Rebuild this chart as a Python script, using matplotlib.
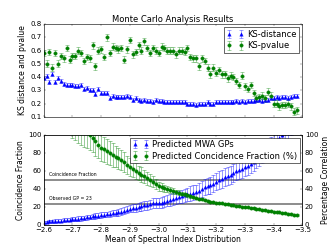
import numpy as np
import matplotlib
matplotlib.use('Agg')
import matplotlib.pyplot as plt

plt.style.use('classic')

# spectral index means (x axis)
spec_index = np.round(np.arange(-2.60, -3.485, -0.01), 2)

# top panel: KS test results
ks_dist = [0.39, 0.41, 0.36, 0.42, 0.36, 0.39, 0.37, 0.35, 0.34, 0.34,
           0.34, 0.33, 0.33, 0.34, 0.31, 0.32, 0.30, 0.30, 0.27, 0.31,
           0.28, 0.28, 0.28, 0.24, 0.26, 0.25, 0.25, 0.25, 0.25, 0.26,
           0.25, 0.23, 0.24, 0.23, 0.22, 0.23, 0.22, 0.22, 0.21, 0.23,
           0.22, 0.22, 0.21, 0.21, 0.21, 0.21, 0.21, 0.21, 0.21, 0.21,
           0.20, 0.20, 0.20, 0.19, 0.20, 0.20, 0.20, 0.21, 0.20, 0.20,
           0.21, 0.21, 0.21, 0.21, 0.21, 0.21, 0.21, 0.22, 0.21, 0.22,
           0.21, 0.22, 0.22, 0.22, 0.23, 0.23, 0.22, 0.23, 0.23, 0.24,
           0.24, 0.25, 0.24, 0.25, 0.25, 0.24, 0.25, 0.26, 0.26]
ks_dist_err = [0.015] * len(ks_dist)
ks_pval = [0.58, 0.50, 0.59, 0.47, 0.58, 0.50, 0.56, 0.54, 0.62, 0.53,
           0.56, 0.56, 0.60, 0.58, 0.52, 0.55, 0.54, 0.64, 0.48, 0.60,
           0.61, 0.55, 0.70, 0.58, 0.63, 0.62, 0.61, 0.62, 0.53, 0.61,
           0.68, 0.57, 0.59, 0.64, 0.60, 0.67, 0.62, 0.58, 0.62, 0.60,
           0.58, 0.63, 0.62, 0.60, 0.60, 0.60, 0.57, 0.60, 0.60, 0.59,
           0.62, 0.55, 0.54, 0.54, 0.48, 0.54, 0.52, 0.47, 0.42, 0.47,
           0.43, 0.45, 0.42, 0.42, 0.39, 0.41, 0.40, 0.37, 0.34, 0.41,
           0.33, 0.31, 0.34, 0.28, 0.24, 0.25, 0.26, 0.24, 0.29, 0.26,
           0.20, 0.20, 0.18, 0.19, 0.19, 0.20, 0.18, 0.14, 0.15]
ks_pval_err = [0.025] * len(ks_pval)

# bottom panel: predicted GPs and coincidence fraction
pred_gps = [3, 3.5, 4, 4, 4.5, 5, 5, 5.5, 6, 6,
            6.5, 7, 7, 7.5, 8, 8.5, 9, 9.5, 10, 10.5,
            11, 11.5, 12, 12.5, 13, 13.5, 14, 15, 16, 17,
            18, 19, 19, 20, 21, 22, 22, 23, 24, 24,
            24, 25, 26, 27, 28, 29, 30, 31, 32, 33,
            34, 35, 36, 37, 38, 40, 42, 43, 44, 46,
            48, 50, 51, 53, 55, 56, 58, 60, 61, 62,
            64, 66, 68, 70, 73, 76, 79, 82, 85, 88,
            91, 94, 97, 100, 103, 106, 110, 114, 118]
pred_gps_err = [1.5, 1.5, 1.5, 1.5, 2, 2, 2, 2, 2, 2,
                2, 2, 2.5, 2.5, 2.5, 2.5, 2.5, 3, 3, 3,
                3, 3, 3, 3.5, 3.5, 3.5, 3.5, 4, 4, 4,
                4, 4.5, 4.5, 4.5, 5, 5, 5, 5, 5.5, 5.5,
                5.5, 6, 6, 6, 6.5, 6.5, 7, 7, 7, 7.5,
                7.5, 8, 8, 8, 8.5, 8.5, 9, 9, 9, 9.5,
                9.5, 10, 10, 10, 10, 10, 10, 10, 10, 10,
                10, 10, 10, 10, 10, 10, 10, 10, 10, 10,
                10, 10, 10, 10, 10, 10, 10, 10, 10]
coinc_frac = [180, 172, 165, 158, 150, 144, 138, 132, 126, 121,
              117, 113, 110, 107, 105, 103, 100, 97, 93, 89,
              86, 84, 82, 80, 78, 76, 74, 72, 70, 67,
              64, 62, 60, 58, 56, 54, 52, 50, 48, 46,
              43, 42, 41, 40, 39, 38, 37, 36, 35, 34,
              33, 32, 31, 30, 29, 28.5, 28, 27, 26, 25.5,
              25, 24.5, 24, 23.5, 23, 22.5, 22, 21.5, 21, 20.5,
              20, 19.5, 19, 18.5, 18, 17.5, 17, 16.5, 16, 15.5,
              15, 14.5, 14, 13.5, 13, 12.5, 12, 11.5, 11]
coinc_frac_err = [20, 20, 20, 20, 20, 20, 20, 20, 20, 20,
                  20, 19, 19, 18, 18, 17, 17, 16, 16, 15,
                  15, 14, 14, 13, 13, 12, 12, 11, 11, 10,
                  10, 9, 9, 8, 8, 7.5, 7, 6.5, 6, 5.5,
                  5, 4.5, 4, 3.5, 3, 3, 2.5, 2.5, 2, 2,
                  2, 1.5, 1.5, 1.5, 1.5, 1, 1, 1, 1, 1,
                  1, 1, 1, 1, 1, 1, 1, 1, 1, 1,
                  1, 1, 1, 1, 1, 1, 1, 1, 1, 1,
                  1, 1, 1, 1, 1, 1, 1, 1, 1]

observed_gp = 23
coinc_line = 50

fig = plt.figure(figsize=(8, 6), dpi=42, facecolor='white')
ax1 = fig.add_axes([0.130, 0.536, 0.770, 0.369])
ax2 = fig.add_axes([0.130, 0.107, 0.770, 0.357], sharex=ax1)

fs = 12
lfs = 13
leg_fs = 14.4
eb = dict(ms=6, capsize=3, elinewidth=1.5, capthick=1.5)

ax1.errorbar(spec_index, ks_dist, yerr=ks_dist_err, fmt='b^', mec='b',
             ecolor=(0, 0, 1, 0.4), label='KS-distance', **eb)
ax1.errorbar(spec_index, ks_pval, yerr=ks_pval_err, fmt='go', mec='g',
             ecolor=(0, 0.5, 0, 0.4), label='KS-pvalue', **eb)
ax1.set_ylim(0.1, 0.8)
ax1.set_xlim(-2.6, -3.5)
ax1.set_title('Monte Carlo Analysis Results', fontsize=14.4, pad=3)
ax1.set_ylabel('KS distance and pvalue', fontsize=lfs)
ax1.tick_params(labelsize=fs, labelbottom=False)
ax1.legend(loc='upper right', fontsize=leg_fs, numpoints=2, borderpad=0.3,
           labelspacing=0.3, handletextpad=0.4, borderaxespad=0.4, handlelength=2)

ax2.axhline(coinc_line, color='grey', lw=3)
ax2.axhline(observed_gp, color='grey', lw=3)
ax2.text(-2.62, coinc_line + 5, 'Coincidence Fraction', fontsize=8)
ax2.text(-2.62, observed_gp + 5, 'Observed GP = 23', fontsize=8)
h1 = ax2.errorbar(spec_index, pred_gps, yerr=pred_gps_err, fmt='b^', mec='b',
                  ecolor=(0, 0, 1, 0.45), label='Predicted MWA GPs', **eb)
ax2.set_ylim(0, 100)
ax2.set_ylabel('Coincidence Fraction', fontsize=lfs)
ax2.set_xlabel('Mean of Spectral Index Distribution', fontsize=lfs, labelpad=2)
ax2.tick_params(labelsize=fs)
ax2.set_xticks(np.arange(-2.6, -3.55, -0.1))

ax3 = ax2.twinx()
h2 = ax3.errorbar(spec_index, coinc_frac, yerr=coinc_frac_err, fmt='go', mec='g',
                  ecolor=(0, 0.5, 0, 0.45), label='Predicted Concidence Fraction (%)', **eb)
ax3.set_ylim(0, 100)
ax3.set_ylabel('Percentage Correlation', fontsize=lfs)
ax3.tick_params(labelsize=fs)
ax3.legend([h1, h2], [h1.get_label(), h2.get_label()], loc='upper right',
           fontsize=leg_fs, numpoints=2, borderpad=0.3, labelspacing=0.3,
           handletextpad=0.4, borderaxespad=0.3, handlelength=2)
ax2.set_xlim(-2.6, -3.5)

fig.savefig('out.png', dpi=42, facecolor='white')
